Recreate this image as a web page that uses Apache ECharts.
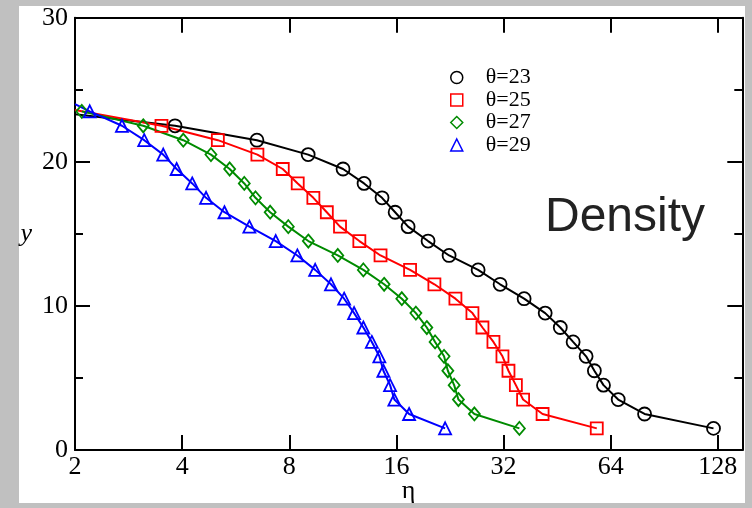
<!DOCTYPE html>
<html>
<head>
<meta charset="utf-8">
<script src="https://cdn.jsdelivr.net/npm/echarts@6/dist/echarts.min.js"></script>
<style>html,body{margin:0;padding:0;background:#c0c0c0;}#c{width:752px;height:508px;}</style>
</head>
<body>
<div id="c"></div>
<script>
// Data (eta, y). Curves start at eta=2 (line only, no marker) where noted.
const eta23 = [2, 3.82, 6.49, 9.04, 11.33, 12.98, 14.58, 15.87, 17.26, 19.64, 22.5, 27.15, 31.3, 36.56, 41.9, 46.2, 50.2, 54.6, 57.6, 61.1, 67.2, 79.7, 124.5];
const y23   = [23.3, 22.5, 21.5, 20.5, 19.5, 18.5, 17.5, 16.5, 15.5, 14.5, 13.5, 12.5, 11.5, 10.5, 9.5, 8.5, 7.5, 6.5, 5.5, 4.5, 3.5, 2.5, 1.5];
const eta25 = [2, 3.50, 5.04, 6.51, 7.67, 8.45, 9.35, 10.2, 11.11, 12.59, 14.44, 17.48, 20.46, 23.44, 26.17, 27.92, 29.98, 31.78, 33.04, 34.66, 36.32, 41.2, 58.5];
const y25   = [23.6, 22.5, 21.5, 20.5, 19.5, 18.5, 17.5, 16.5, 15.5, 14.5, 13.5, 12.5, 11.5, 10.5, 9.5, 8.5, 7.5, 6.5, 5.5, 4.5, 3.5, 2.5, 1.5];
const eta27 = [2.09, 3.11, 4.03, 4.82, 5.44, 5.98, 6.43, 7.07, 7.95, 9.05, 10.95, 12.92, 14.78, 16.57, 18.15, 19.48, 20.55, 21.78, 22.32, 23.25, 23.90, 26.5, 35.46];
const y27   = [23.5, 22.5, 21.5, 20.5, 19.5, 18.5, 17.5, 16.5, 15.5, 14.5, 13.5, 12.5, 11.5, 10.5, 9.5, 8.5, 7.5, 6.5, 5.5, 4.5, 3.5, 2.5, 1.5];
const eta29 = [2, 2.20, 2.71, 3.13, 3.54, 3.86, 4.27, 4.67, 5.26, 6.18, 7.33, 8.43, 9.46, 10.48, 11.41, 12.17, 12.92, 13.65, 14.33, 14.71, 15.36, 15.79, 17.37, 21.93];
const y29   = [24.0, 23.5, 22.5, 21.5, 20.5, 19.5, 18.5, 17.5, 16.5, 15.5, 14.5, 13.5, 12.5, 11.5, 10.5, 9.5, 8.5, 7.5, 6.5, 5.5, 4.5, 3.5, 2.5, 1.5];
const names = ['θ=23', 'θ=25', 'θ=27', 'θ=29'];
const xTicks = [2, 4, 8, 16, 32, 64, 128];
const yTicks = [0, 10, 20, 30];

const colors = ['#000000', '#ff0000', '#008b00', '#0000ff'];
const symbols = ['circle', 'rect', 'diamond', 'triangle'];
const sizes = [13, 12, [11, 13], 12];
const lineOnlyFirst = [true, true, false, true];

function build(eta, y, noFirst) {
  return eta.map((e, i) => (i === 0 && noFirst) ? {value: [e, y[i]], symbol: 'none'} : [e, y[i]]);
}
const sets = [[eta23, y23], [eta25, y25], [eta27, y27], [eta29, y29]];

const serif = 'Liberation Serif';
const axisLineStyle = {color: '#000', width: 2};

function xAxis(pos, labels) {
  return {
    type: 'log', logBase: 2, min: 2, max: 150, position: pos,
    axisLine: {show: true, onZero: false, lineStyle: axisLineStyle},
    axisTick: {show: true, inside: true, length: 15, lineStyle: {color: '#000', width: 2}},
    splitLine: {show: false},
    axisLabel: {show: labels, fontFamily: serif, fontSize: 26, color: '#000', margin: 4, showMaxLabel: false,
      formatter: v => (xTicks.indexOf(Math.round(v)) >= 0 ? String(Math.round(v)) : '')},
    name: labels ? 'η' : '', nameLocation: 'middle', nameGap: 28, nameMoveOverlap: false,
    nameTextStyle: {fontFamily: serif, fontSize: 26, color: '#000'}
  };
}
function yAxis(pos, labels) {
  return {
    type: 'value', min: 0, max: 30, interval: 10, position: pos,
    axisLine: {show: true, onZero: false, lineStyle: axisLineStyle},
    axisTick: {show: true, inside: true, length: 15, lineStyle: {color: '#000', width: 2}},
    minorTick: {show: true, splitNumber: 2, length: 8, lineStyle: {color: '#000', width: 2}},
    splitLine: {show: false}, minorSplitLine: {show: false},
    axisLabel: {show: labels, fontFamily: serif, fontSize: 26, color: '#000', margin: 7,
      formatter: v => (yTicks.indexOf(v) >= 0 ? String(v) : '')},
    name: labels ? 'y' : '', nameLocation: 'middle', nameRotate: 0, nameGap: 43, nameMoveOverlap: false,
    nameTextStyle: {fontFamily: serif, fontStyle: 'italic', fontSize: 26, color: '#000'}
  };
}

const chart = echarts.init(document.getElementById('c'), null, {renderer: 'canvas'});
chart.setOption({
  animation: false,
  backgroundColor: '#c0c0c0',
  graphic: [
    {type: 'rect', z: -10, silent: true, shape: {x: 19, y: 6, width: 726, height: 497}, style: {fill: '#ffffff'}},
    {type: 'text', left: 545, top: 194, z: 10, style: {text: 'Density', fontFamily: 'Liberation Sans', fontSize: 48, fill: '#222222'}}
  ],
  grid: {left: 75, right: 9.7, top: 17.7, bottom: 58, containLabel: false, outerBoundsMode: 'none'},
  xAxis: [xAxis('bottom', true), xAxis('top', false)],
  yAxis: [yAxis('left', true), yAxis('right', false)],
  legend: {
    orient: 'vertical', left: 450, top: 66.5, padding: 0, itemWidth: 12, itemHeight: 12, itemGap: 0.5,
    textStyle: {fontFamily: serif, fontSize: 22, color: '#000', padding: [0, 0, 0, 18]},
    data: names.map((n, i) => ({name: n, icon: symbols[i],
      itemStyle: {color: 'rgba(255,255,255,0)', borderColor: colors[i], borderWidth: 1.5}}))
  },
  series: sets.map((s, i) => ({
    name: names[i], type: 'line', xAxisIndex: 0, yAxisIndex: 0,
    data: build(s[0], s[1], lineOnlyFirst[i]),
    symbol: symbols[i], symbolSize: sizes[i], showAllSymbol: true,
    lineStyle: {color: colors[i], width: 2},
    itemStyle: {color: 'rgba(255,255,255,0)', borderColor: colors[i], borderWidth: 1.8},
    emphasis: {disabled: true}
  }))
});
</script>
</body>
</html>
